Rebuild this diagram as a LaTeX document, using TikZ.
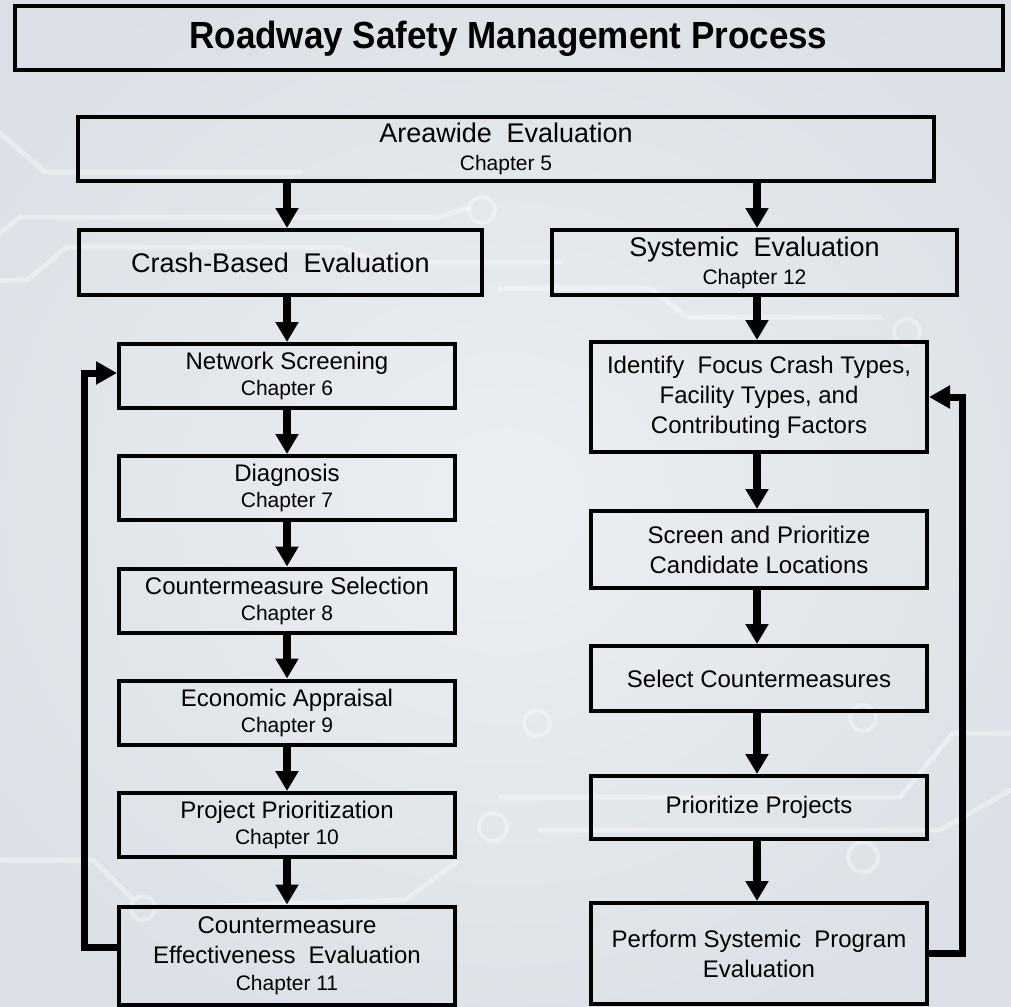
\documentclass[tikz,border=0pt]{standalone}
\usepackage{graphicx}
\usepackage{fontspec}
\setmainfont{Liberation Sans}
\usetikzlibrary{arrows.meta}

\definecolor{bgbase}{RGB}{218,224,230}
\definecolor{bglight}{RGB}{236,239,242}
\newcommand\chap[1]{{\fontsize{21}{26}\selectfont #1}}
\newcommand\wsp{\hspace{0.55em}}

\tikzset{
  trace/.style={white, opacity=0.38, line width=5pt, line join=round, line cap=round},
  pad/.style={white, opacity=0.38, line width=4pt},
  stepbox/.style={draw=black, line width=4pt, align=center, inner sep=0pt,
    font=\fontsize{24}{30}\selectfont},
  leftbox/.style={stepbox, minimum width=336pt, minimum height=64pt},
  rightbox/.style={stepbox, minimum width=336pt},
  flow/.style={line width=8pt, -{Triangle[width=22pt,length=20pt]}},
  loop/.style={line width=7pt, line join=miter, -{Triangle[width=22pt,length=21pt]}}
}

\begin{document}
\begin{tikzpicture}[x=1pt,y=-1pt]
\useasboundingbox (0,0) rectangle (1011,1006);

% backdrop
\fill[bgbase] (0,0) rectangle (1011,1006);
\shade[inner color=bglight, outer color=bgbase] (-150,-100) rectangle (1160,1106);

% faint circuit traces
\draw[trace] (0,133) -- (45,172) -- (300,172);
\draw[trace] (0,233) -- (20,217) -- (440,217) -- (468,208);
\draw[pad] (482,210) circle (13);
\draw[trace] (0,280) -- (27,280) -- (67,247) -- (340,247) -- (380,262) -- (560,262);
\draw[trace] (500,288) -- (650,288) -- (687,317) -- (880,317);
\draw[pad] (907,332) circle (13);
\draw[trace] (0,860) -- (93,860) -- (132,898);
\draw[pad] (143,908) circle (12);
\draw[trace] (457,862) -- (405,900) -- (158,908);
\draw[pad] (493,827) circle (14);
\draw[trace] (500,797) -- (900,797) -- (953,733) -- (1011,733);
\draw[trace] (540,830) -- (940,830) -- (1011,790);
\draw[pad] (863,857) circle (15);
\draw[pad] (863,718) circle (13);
\draw[pad] (537,723) circle (13);

% title
\node[draw=black, line width=4pt, minimum width=988pt, minimum height=64pt,
      inner sep=0pt, font=\fontsize{35}{40}\selectfont\bfseries]
  (title) at (508.5,38.5) {\scalebox{1}[1.08]{Roadway Safety Management Process}};

% top level
\node[stepbox, minimum width=856pt, minimum height=64pt,
      font=\fontsize{27}{32}\selectfont]
  (aw) at (506,149) {Areawide\wsp Evaluation\\[-4pt]\chap{Chapter 5}};

\node[stepbox, minimum width=403pt, minimum height=65pt,
      font=\fontsize{27}{32}\selectfont]
  (cb) at (280.5,262.5) {Crash-Based\wsp Evaluation};

\node[stepbox, minimum width=405pt, minimum height=65pt,
      font=\fontsize{27}{32}\selectfont]
  (sy) at (754.5,262.5) {Systemic\wsp Evaluation\\[-4pt]\chap{Chapter 12}};

% crash-based steps
\node[leftbox] (ns) at (287,376) {Network Screening\\[-4pt]\chap{Chapter 6}};
\node[leftbox] (dg) at (287,488) {Diagnosis\\[-4pt]\chap{Chapter 7}};
\node[leftbox] (cs) at (287,600.5) {Countermeasure Selection\\[-4pt]\chap{Chapter 8}};
\node[leftbox] (ea) at (287,712.5) {Economic Appraisal\\[-4pt]\chap{Chapter 9}};
\node[leftbox] (pp) at (287,825) {Project Prioritization\\[-4pt]\chap{Chapter 10}};
\node[leftbox, minimum height=98pt] (ce) at (287,955.5)
  {Countermeasure\\Effectiveness\wsp Evaluation\\[-3pt]\chap{Chapter 11}};

% systemic steps
\node[rightbox, minimum height=110pt] (id) at (759,397)
  {Identify\wsp Focus Crash Types,\\Facility Types, and\\Contributing Factors};
\node[rightbox, minimum height=77pt] (sc) at (759,549.5)
  {Screen and Prioritize\\Candidate Locations};
\node[rightbox, minimum height=65pt] (sl) at (759,678.5) {Select Countermeasures};
\node[rightbox, minimum height=63pt] (pr) at (759,807.5) {Prioritize Projects};
\node[rightbox, minimum height=101pt] (pe) at (759,953.5)
  {Perform Systemic\wsp Program\\Evaluation};

% flow arrows, crash-based branch
\draw[flow] (aw.south -| ns.north) -- (cb.north -| ns.north);
\draw[flow] (cb.south -| ns.north) -- (ns.north);
\draw[flow] (ns) -- (dg);
\draw[flow] (dg) -- (cs);
\draw[flow] (cs) -- (ea);
\draw[flow] (ea) -- (pp);
\draw[flow] (pp) -- (ce);

% flow arrows, systemic branch
\draw[flow] ([xshift=-2pt]aw.south -| id.north) -- ([xshift=-2pt]sy.north -| id.north);
\draw[flow] ([xshift=-2pt]sy.south -| id.north) -- ([xshift=-2pt]id.north);
\draw[flow] ([xshift=-2pt]id.south) -- ([xshift=-2pt]sc.north);
\draw[flow] ([xshift=-2pt]sc.south) -- ([xshift=-2pt]sl.north);
\draw[flow] ([xshift=-2pt]sl.south) -- ([xshift=-2pt]pr.north);
\draw[flow] ([xshift=-2pt]pr.south) -- ([xshift=-2pt]pe.north);

% feedback loops
\draw[loop] ([yshift=8.5pt]ce.west) -- ++(-33,0) |- ([yshift=3pt]ns.west);
\draw[loop] (pe.east) -- ++(33,0) |- (id.east);
\end{tikzpicture}
\end{document}
